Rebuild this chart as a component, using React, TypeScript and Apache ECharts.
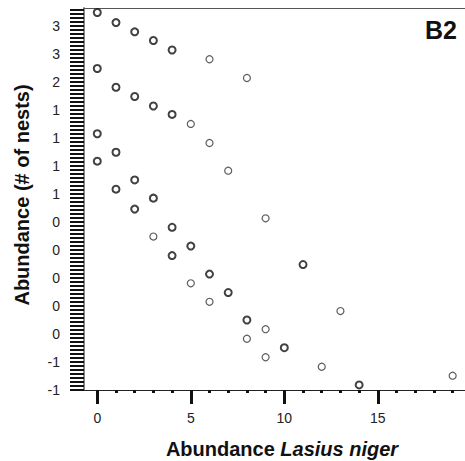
import React, { useEffect, useRef } from 'react';
import * as echarts from 'echarts';

// y axis: tick labels from bottom (index 0) to top (index 13)
const yTickLabels = ['-1', '-1', '0', '0', '0', '0', '0', '1', '1', '1', '1', '2', '3', '3'];
const yMinorPerLabel = 7;
const yMax = 13.64;

const xMajorTicks = [0, 5, 10, 15];
const xMinorTicks = [0, 1, 2, 3, 4, 5, 6, 7, 8, 9, 10, 11, 12, 13, 14, 15, 16, 17, 18, 19];
const xMin = -0.71;
const xMax = 19.66;

// [abundance Lasius niger, abundance (# of nests) in axis units]
const boldPoints: [number, number][] = [
  [0, 13.48], [0, 11.48], [0, 9.15], [0, 8.17],
  [1, 13.12], [1, 10.81], [1, 8.49], [1, 7.17],
  [2, 12.79], [2, 10.48], [2, 7.5], [2, 6.46],
  [3, 12.48], [3, 10.14], [3, 6.85],
  [4, 12.14], [4, 9.84], [4, 5.81], [4, 4.8],
  [5, 5.14],
  [6, 4.14],
  [7, 3.48],
  [8, 2.5],
  [10, 1.51],
  [11, 4.48],
  [14, 0.18],
];

const thinPoints: [number, number][] = [
  [3, 5.48],
  [5, 9.5], [5, 3.81],
  [6, 11.81], [6, 8.82], [6, 3.15],
  [7, 7.83],
  [8, 11.14], [8, 1.83],
  [9, 6.13], [9, 2.17], [9, 1.17],
  [12, 0.83],
  [13, 2.82],
  [19, 0.51],
];

const panelLabel = 'B2';
const font = '"Liberation Sans", Arial, Helvetica, sans-serif';

export default function App() {
  const ref = useRef<HTMLDivElement>(null);

  useEffect(() => {
    if (!ref.current) return;
    const chart = echarts.init(ref.current, undefined, { renderer: 'svg' });

    const gridLeft = 84;
    const gridTop = 8;
    const gridBottom = 71;
    const W = 465;
    const H = 461;

    const yMinorTicks: number[] = [];
    const nMinor = Math.floor(yMax * yMinorPerLabel);
    for (let k = 0; k <= nMinor; k++) yMinorTicks.push(k / yMinorPerLabel);
    const yLabelValues = yTickLabels.map((_, i) => i);

    chart.setOption({
      animation: false,
      backgroundColor: '#ffffff',
      grid: {
        left: gridLeft,
        top: gridTop,
        right: 0,
        bottom: gridBottom,
        containLabel: false,
        outerBoundsMode: 'none',
      },
      xAxis: [
        {
          type: 'value',
          position: 'bottom',
          min: xMin,
          max: xMax,
          axisLine: { show: true, onZero: false, lineStyle: { color: '#222', width: 1 } },
          axisTick: {
            show: true,
            customValues: xMajorTicks,
            length: 14,
            lineStyle: { color: '#111', width: 3 },
          },
          axisLabel: {
            show: true,
            customValues: xMajorTicks,
            margin: 21,
            fontSize: 14,
            fontFamily: font,
            color: '#222',
          },
          splitLine: { show: false },
        },
        {
          type: 'value',
          position: 'bottom',
          min: xMin,
          max: xMax,
          axisLine: { show: false, onZero: false },
          axisTick: {
            show: true,
            customValues: xMinorTicks,
            length: 3,
            lineStyle: { color: '#111', width: 3 },
          },
          axisLabel: { show: false },
          splitLine: { show: false },
        },
        {
          type: 'value',
          position: 'top',
          min: xMin,
          max: xMax,
          axisLine: { show: true, onZero: false, lineStyle: { color: '#555', width: 1 } },
          axisTick: { show: false },
          axisLabel: { show: false },
          splitLine: { show: false },
        },
      ],
      yAxis: [
        {
          type: 'value',
          min: 0,
          max: yMax,
          axisLine: { show: true, onZero: false, lineStyle: { color: '#888', width: 2 } },
          axisTick: {
            show: true,
            customValues: yMinorTicks,
            length: 14,
            lineStyle: { color: '#111', width: 2 },
          },
          axisLabel: {
            show: true,
            customValues: yLabelValues,
            margin: 24,
            fontSize: 14,
            fontFamily: font,
            color: '#222',
            formatter: (v: number) => yTickLabels[Math.round(v)] ?? '',
          },
          splitLine: { show: false },
        },
      ],
      graphic: [
        {
          type: 'text',
          x: 282,
          y: 449,
          style: {
            text: '{a|Abundance }{b|Lasius niger}',
            align: 'center',
            verticalAlign: 'middle',
            rich: {
              a: { fontSize: 20, fontWeight: 'bold', fontFamily: font, fill: '#111' },
              b: { fontSize: 20, fontWeight: 'bold', fontStyle: 'italic', fontFamily: font, fill: '#111' },
            },
          },
        },
        {
          type: 'text',
          x: 22,
          y: 195,
          rotation: Math.PI / 2,
          style: {
            text: 'Abundance (# of nests)',
            align: 'center',
            verticalAlign: 'middle',
            fontSize: 20,
            fontWeight: 'bold',
            fontFamily: font,
            fill: '#111',
          },
        },
        {
          type: 'text',
          x: 457,
          y: 30,
          style: {
            text: panelLabel,
            align: 'right',
            verticalAlign: 'middle',
            fontSize: 25,
            fontWeight: 'bold',
            fontFamily: font,
            fill: '#111',
          },
        },
      ],
      series: [
        {
          type: 'scatter',
          xAxisIndex: 0,
          yAxisIndex: 0,
          symbol: 'circle',
          symbolSize: 7,
          data: boldPoints,
          itemStyle: { color: '#ffffff', borderColor: '#111', borderWidth: 2 },
          emphasis: { disabled: true },
        },
        {
          type: 'scatter',
          xAxisIndex: 0,
          yAxisIndex: 0,
          symbol: 'circle',
          symbolSize: 7,
          data: thinPoints,
          itemStyle: { color: '#ffffff', borderColor: '#333', borderWidth: 1.2 },
          emphasis: { disabled: true },
        },
      ],
    });

    return () => {
      chart.dispose();
    };
  }, []);

  return (
    <div
      ref={ref}
      style={{ position: 'fixed', left: 0, top: 0, width: 465, height: 461, background: '#fff' }}
    />
  );
}
